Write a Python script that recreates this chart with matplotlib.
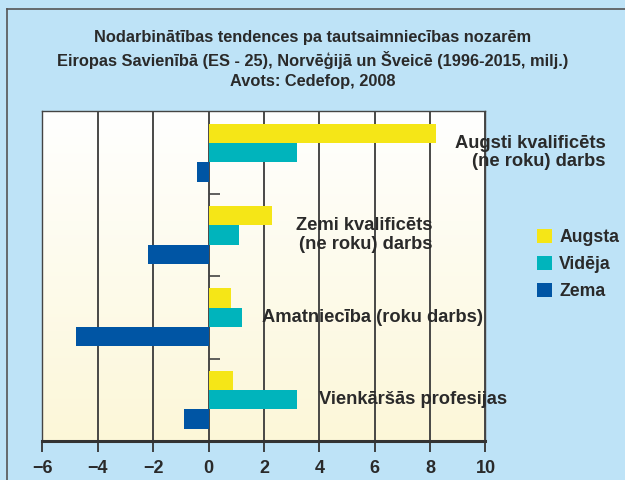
import numpy as np
import matplotlib.pyplot as plt
from matplotlib.lines import Line2D
from matplotlib.colors import LinearSegmentedColormap

plt.rcParams['font.family'] = ['Liberation Sans', 'DejaVu Sans']

# data (milj.)
categories = ['Augsti kvalificēts\n(ne roku) darbs',
              'Zemi kvalificēts\n(ne roku) darbs',
              'Amatniecība (roku darbs)',
              'Vienkāršās profesijas']
augsta = [8.2, 2.3, 0.82, 0.9]
videja = [3.2, 1.1, 1.2, 3.2]
zema = [-0.4, -2.2, -4.8, -0.9]
series_names = ['Augsta', 'Vidēja', 'Zema']
title_text = ('Nodarbinātības tendences pa tautsaimniecības nozarēm\n'
              'Eiropas Savienībā (ES - 25), Norvēģijā un Šveicē (1996-2015, milj.)\n'
              'Avots: Cedefop, 2008')

# where the category names sit (right edge, in x units)
label_x = [14.35, 8.07, 9.91, 10.78]

bg = '#BEE3F7'
colors = ['#F5E617', '#00B4BC', '#0055A4']
txt_col = '#2A2A2A'

fig = plt.figure(figsize=(6.25, 4.8), dpi=100, facecolor=bg)
ax = fig.add_axes([0.0677, 0.0813, 0.7091, 0.6865])

# cream gradient inside the plot
cmap = LinearSegmentedColormap.from_list('cream', ['#FFFFFF', '#FCF7D8'])
grad = np.linspace(0, 1, 256).reshape(-1, 1)
ax.imshow(grad, cmap=cmap, aspect='auto', extent=(0, 1, 0, 1),
          origin='upper', transform=ax.transAxes, zorder=0)

pos = np.arange(len(categories)) + 0.5
h = 0.235
for vals, off, c, name in zip([augsta, videja, zema], [-h, 0, h], colors, series_names):
    ax.barh(pos + off, vals, height=h, color=c, label=name, zorder=3,
            edgecolor='none')

ax.set_xlim(-6, 10)
ax.set_ylim(len(categories), 0)
ax.set_xticks(np.arange(-6, 11, 2))
ax.set_yticks([])
ax.grid(axis='x', color='#3A3A3A', lw=1.3, zorder=1)
ax.set_axisbelow(True)

# little marks between the groups on the zero line
ax.hlines(np.arange(1, len(categories)), 0, 0.43, color='#444444', lw=1.2, zorder=2)

for s in ['top', 'left', 'right']:
    ax.spines[s].set_color('#444444')
    ax.spines[s].set_linewidth(1.0)
ax.spines['bottom'].set_color('#333333')
ax.spines['bottom'].set_linewidth(2.2)
ax.tick_params(axis='x', direction='out', length=8, width=1.3, color='#333333',
               labelsize=13, labelcolor=txt_col, pad=6)
for t in ax.get_xticklabels():
    t.set_fontweight('bold')

for y, txt, x in zip(pos, categories, label_x):
    ax.text(x, y, txt, ha='right', va='center', multialignment='right',
            fontsize=13.2, fontweight='bold', color=txt_col, linespacing=1.1,
            zorder=5, clip_on=False)

fig.text(0.5, 0.876, title_text, ha='center', va='center', multialignment='center',
         fontsize=11.8, fontweight='bold', color=txt_col, linespacing=1.4)

leg = ax.legend(loc='upper left', bbox_to_anchor=(0.859, 0.523),
                bbox_transform=fig.transFigure, frameon=False, fontsize=12.7,
                handlelength=0.87, handleheight=0.87, handletextpad=0.4,
                labelspacing=0.55, borderpad=0, borderaxespad=0)
for t in leg.get_texts():
    t.set_fontweight('bold')
    t.set_color(txt_col)

# outer frame (left and top only)
fig.add_artist(Line2D([7 / 625, 7 / 625], [0, 1 - 8.5 / 480], color='#555555', lw=1.2))
fig.add_artist(Line2D([7 / 625, 1], [1 - 8.5 / 480, 1 - 8.5 / 480], color='#555555', lw=1.2))

fig.savefig('out.png', dpi=100, facecolor=bg)
